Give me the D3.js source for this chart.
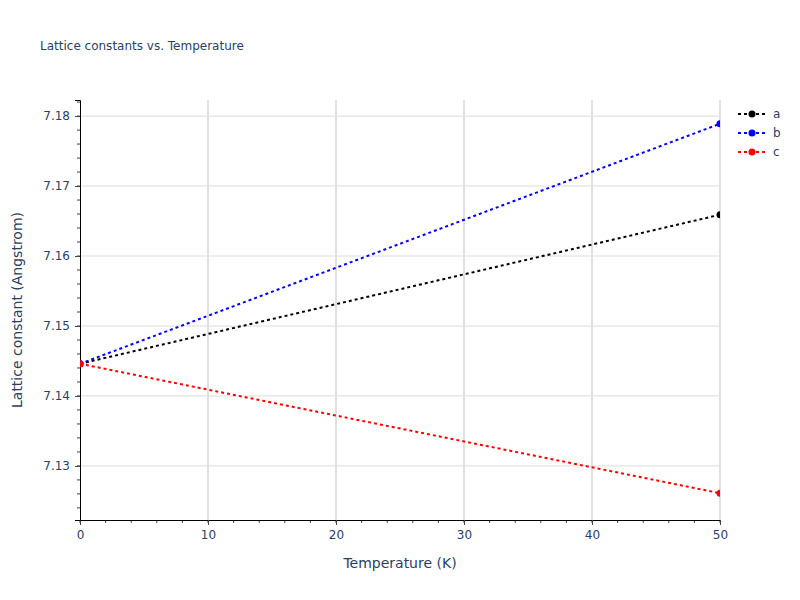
<!DOCTYPE html>
<html><head><meta charset="utf-8">
<script src="https://cdn.jsdelivr.net/npm/d3@7"></script>
<style>body{margin:0;background:#fff}text{font-family:"DejaVu Sans",sans-serif}</style>
</head><body><svg id="c" width="800" height="600"></svg>
<script>
const temps = [0, 50];
const seriesNames = ["a", "b", "c"];
const seriesColors = ["black", "blue", "red"];
const valuesA = [7.1446, 7.1659];
const valuesB = [7.1446, 7.1789];
const valuesC = [7.1446, 7.1261];
const xTicks = [0, 10, 20, 30, 40, 50];
const yTicks = [7.13, 7.14, 7.15, 7.16, 7.17, 7.18];
const series = [valuesA, valuesB, valuesC];

const svg = d3.select("#c");
const L = 80, R = 720, T = 100, B = 520;
const x = d3.scaleLinear().domain([0, 50]).range([L, R]);
const y = d3.scaleLinear().domain([7.12227, 7.18230]).range([B, T]);
const tc = "#2a3f5f";
const FF = "DejaVu Sans, sans-serif";

// grid
svg.append("g").selectAll("line").data(xTicks.slice(1)).join("line")
  .attr("x1", d => x(d)).attr("x2", d => x(d)).attr("y1", T).attr("y2", B)
  .attr("stroke", "#e0e0e0").attr("stroke-width", 2);
svg.append("g").selectAll("line").data(yTicks).join("line")
  .attr("x1", L).attr("x2", R).attr("y1", d => y(d)).attr("y2", d => y(d))
  .attr("stroke", "#dcdcdc").attr("stroke-width", 1);

// minor ticks
const xMinor = d3.range(0, 50.001, 2);
const yMinor = d3.range(7.124, 7.1823, 0.002);
svg.append("g").selectAll("line").data(xMinor).join("line")
  .attr("x1", d => x(d)).attr("x2", d => x(d)).attr("y1", B).attr("y2", B + 3)
  .attr("stroke", "#444").attr("stroke-width", 1);
svg.append("g").selectAll("line").data(yMinor).join("line")
  .attr("x1", L - 3).attr("x2", L).attr("y1", d => y(d)).attr("y2", d => y(d))
  .attr("stroke", "#444").attr("stroke-width", 1);

// axes
const xa = svg.append("g").attr("transform", `translate(0,${B})`)
  .call(d3.axisBottom(x).tickValues(xTicks).tickSize(5).tickPadding(5).tickFormat(d3.format("d")));
const ya = svg.append("g").attr("transform", `translate(${L},0)`)
  .call(d3.axisLeft(y).tickValues(yTicks).tickSize(5).tickPadding(5).tickFormat(d3.format(".2f")));
[xa, ya].forEach(a => {
  a.select(".domain").attr("stroke", "black").attr("stroke-width", 1);
  a.selectAll(".tick line").attr("stroke", "#444");
  a.selectAll(".tick text").attr("fill", tc).attr("font-size", 12).attr("font-family", FF);
});

// clip
svg.append("clipPath").attr("id", "clip").append("rect")
  .attr("x", L).attr("y", T).attr("width", R - L).attr("height", B - T);

const line = d3.line().x((d, i) => x(temps[i])).y(d => y(d));
const plot = svg.append("g").attr("clip-path", "url(#clip)");
series.forEach((s, k) => {
  plot.append("path").datum(s).attr("d", line).attr("fill", "none")
    .attr("stroke", seriesColors[k]).attr("stroke-width", 2).attr("stroke-dasharray", "3,3");
  plot.selectAll(null).data(s).join("circle")
    .attr("cx", (d, i) => x(temps[i])).attr("cy", d => y(d)).attr("r", 3.5)
    .attr("fill", seriesColors[k]);
});

// legend
const lg = svg.append("g");
seriesNames.forEach((n, k) => {
  const yy = 114 + k * 19;
  lg.append("line").attr("x1", 738).attr("x2", 766).attr("y1", yy).attr("y2", yy)
    .attr("stroke", seriesColors[k]).attr("stroke-width", 2).attr("stroke-dasharray", "3,3");
  lg.append("circle").attr("cx", 752).attr("cy", yy).attr("r", 3.5).attr("fill", seriesColors[k]);
  lg.append("text").attr("x", 773).attr("y", yy + 4).attr("font-size", 12).attr("fill", tc).text(n);
});

// titles
svg.append("text").attr("x", 40).attr("y", 50).attr("font-size", 12).attr("fill", tc)
  .text("Lattice constants vs. Temperature");
svg.append("text").attr("x", (L + R) / 2).attr("y", 568).attr("text-anchor", "middle")
  .attr("font-size", 14).attr("fill", tc).text("Temperature (K)");
svg.append("text").attr("transform", `translate(22,${(T + B) / 2}) rotate(-90)`)
  .attr("text-anchor", "middle").attr("font-size", 14).attr("fill", tc).text("Lattice constant (Angstrom)");
</script></body></html>
